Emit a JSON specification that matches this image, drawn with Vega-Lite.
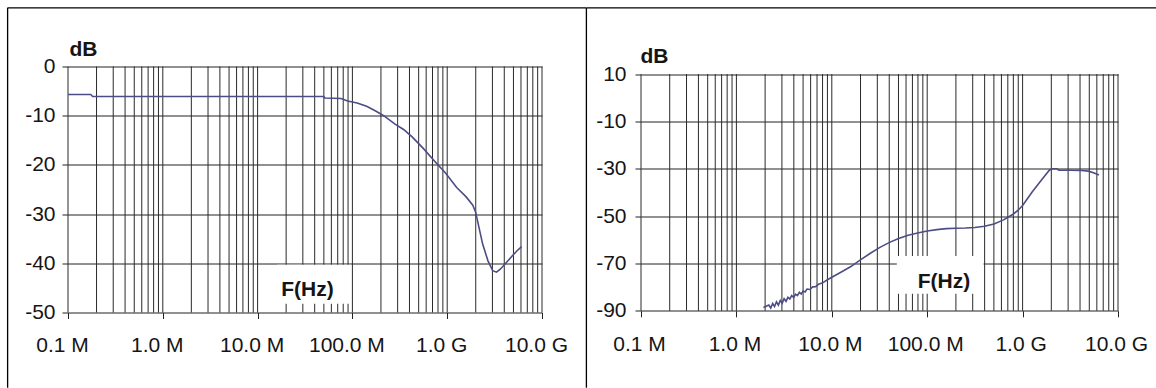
{
  "$schema": "https://vega.github.io/schema/vega-lite/v6.json",
  "background": "white",
  "padding": {"left": 6, "top": 6.5, "right": 0, "bottom": 0},
  "bounds": "flush",
  "spacing": 99,
  "config": {
    "view": {"stroke": null},
    "font": "Liberation Sans",
    "axis": {
      "labelFont": "Liberation Sans",
      "labelFontSize": 21,
      "labelColor": "#151515",
      "tickColor": "#222222",
      "tickSize": 6,
      "domain": false,
      "labelFlush": false,
      "labelOverlap": false,
      "titleFont": "Liberation Sans",
      "titleFontSize": 21,
      "titleFontWeight": "bold",
      "titleColor": "#151515"
    }
  },
  "datasets": {
    "vgrid": [
      {"freq_hz": 100000}, {"freq_hz": 200000}, {"freq_hz": 300000}, {"freq_hz": 400000}, {"freq_hz": 500000}, {"freq_hz": 600000}, {"freq_hz": 700000}, {"freq_hz": 800000}, {"freq_hz": 900000},
      {"freq_hz": 1000000}, {"freq_hz": 2000000}, {"freq_hz": 3000000}, {"freq_hz": 4000000}, {"freq_hz": 5000000}, {"freq_hz": 6000000}, {"freq_hz": 7000000}, {"freq_hz": 8000000}, {"freq_hz": 9000000},
      {"freq_hz": 10000000}, {"freq_hz": 20000000}, {"freq_hz": 30000000}, {"freq_hz": 40000000}, {"freq_hz": 50000000}, {"freq_hz": 60000000}, {"freq_hz": 70000000}, {"freq_hz": 80000000}, {"freq_hz": 90000000},
      {"freq_hz": 100000000}, {"freq_hz": 200000000}, {"freq_hz": 300000000}, {"freq_hz": 400000000}, {"freq_hz": 500000000}, {"freq_hz": 600000000}, {"freq_hz": 700000000}, {"freq_hz": 800000000}, {"freq_hz": 900000000},
      {"freq_hz": 1000000000}, {"freq_hz": 2000000000}, {"freq_hz": 3000000000}, {"freq_hz": 4000000000}, {"freq_hz": 5000000000}, {"freq_hz": 6000000000}, {"freq_hz": 7000000000}, {"freq_hz": 8000000000}, {"freq_hz": 9000000000},
      {"freq_hz": 10000000000}
    ],
    "attenuation": [
      {"freq_hz": 100000, "db": -5.7},
      {"freq_hz": 174000, "db": -5.7},
      {"freq_hz": 182000, "db": -6.1},
      {"freq_hz": 50000000, "db": -6.1},
      {"freq_hz": 51300000, "db": -6.4},
      {"freq_hz": 75900000, "db": -6.5},
      {"freq_hz": 89100000, "db": -7.0},
      {"freq_hz": 112200000, "db": -7.4},
      {"freq_hz": 141300000, "db": -8.1},
      {"freq_hz": 177800000, "db": -9.1},
      {"freq_hz": 213800000, "db": -10.0},
      {"freq_hz": 281800000, "db": -11.7},
      {"freq_hz": 346700000, "db": -12.8},
      {"freq_hz": 426600000, "db": -14.3},
      {"freq_hz": 562300000, "db": -16.7},
      {"freq_hz": 741300000, "db": -19.3},
      {"freq_hz": 955000000, "db": -21.6},
      {"freq_hz": 1259000000, "db": -24.6},
      {"freq_hz": 1585000000, "db": -26.5},
      {"freq_hz": 1862000000, "db": -28.2},
      {"freq_hz": 1995000000, "db": -29.6},
      {"freq_hz": 2163000000, "db": -32.7},
      {"freq_hz": 2366000000, "db": -36.1},
      {"freq_hz": 2692000000, "db": -39.5},
      {"freq_hz": 3020000000, "db": -41.5},
      {"freq_hz": 3311000000, "db": -41.8},
      {"freq_hz": 3631000000, "db": -41.2},
      {"freq_hz": 4055000000, "db": -40.2},
      {"freq_hz": 4842000000, "db": -38.5},
      {"freq_hz": 5495000000, "db": -37.4},
      {"freq_hz": 6095000000, "db": -36.6}
    ],
    "crosstalk": [
      {"freq_hz": 1919000, "db": -88.6},
      {"freq_hz": 2188000, "db": -87.6},
      {"freq_hz": 2291000, "db": -88.8},
      {"freq_hz": 2399000, "db": -86.9},
      {"freq_hz": 2512000, "db": -88.2},
      {"freq_hz": 2630000, "db": -86.2},
      {"freq_hz": 2754000, "db": -87.6},
      {"freq_hz": 2884000, "db": -85.6},
      {"freq_hz": 3020000, "db": -86.8},
      {"freq_hz": 3162000, "db": -84.9},
      {"freq_hz": 3311000, "db": -86.0},
      {"freq_hz": 3467000, "db": -84.3},
      {"freq_hz": 3631000, "db": -85.0},
      {"freq_hz": 3802000, "db": -83.6},
      {"freq_hz": 3981000, "db": -84.4},
      {"freq_hz": 4169000, "db": -83.0},
      {"freq_hz": 4365000, "db": -83.6},
      {"freq_hz": 4571000, "db": -82.2},
      {"freq_hz": 4786000, "db": -82.9},
      {"freq_hz": 5012000, "db": -81.6},
      {"freq_hz": 5248000, "db": -82.0},
      {"freq_hz": 5495000, "db": -80.8},
      {"freq_hz": 5888000, "db": -81.0},
      {"freq_hz": 6310000, "db": -79.9},
      {"freq_hz": 6761000, "db": -79.8},
      {"freq_hz": 7244000, "db": -78.8},
      {"freq_hz": 7943000, "db": -78.3},
      {"freq_hz": 8913000, "db": -77.0},
      {"freq_hz": 10000000, "db": -75.8},
      {"freq_hz": 12590000, "db": -73.6},
      {"freq_hz": 15850000, "db": -71.3},
      {"freq_hz": 19950000, "db": -68.5},
      {"freq_hz": 25120000, "db": -65.8},
      {"freq_hz": 31620000, "db": -63.3},
      {"freq_hz": 39810000, "db": -61.2},
      {"freq_hz": 50120000, "db": -59.5},
      {"freq_hz": 63100000, "db": -58.1},
      {"freq_hz": 79430000, "db": -57.1},
      {"freq_hz": 100000000, "db": -56.3},
      {"freq_hz": 125900000, "db": -55.7},
      {"freq_hz": 158500000, "db": -55.3},
      {"freq_hz": 199500000, "db": -55.1},
      {"freq_hz": 251200000, "db": -55.0},
      {"freq_hz": 316200000, "db": -54.8},
      {"freq_hz": 398100000, "db": -54.3},
      {"freq_hz": 501200000, "db": -53.3},
      {"freq_hz": 631000000, "db": -51.6},
      {"freq_hz": 794300000, "db": -49.2},
      {"freq_hz": 891300000, "db": -47.6},
      {"freq_hz": 1000000000, "db": -45.5},
      {"freq_hz": 1259000000, "db": -39.8},
      {"freq_hz": 1585000000, "db": -34.6},
      {"freq_hz": 1905000000, "db": -30.6},
      {"freq_hz": 2042000000, "db": -30.0},
      {"freq_hz": 2291000000, "db": -30.0},
      {"freq_hz": 2399000000, "db": -30.6},
      {"freq_hz": 3162000000, "db": -30.6},
      {"freq_hz": 4169000000, "db": -30.7},
      {"freq_hz": 4898000000, "db": -31.0},
      {"freq_hz": 5623000000, "db": -31.8},
      {"freq_hz": 6310000000, "db": -32.6}
    ]
  },
  "hconcat": [
    {
      "width": 474,
      "height": 246,
      "layer": [
        {
          "data": {"name": "vgrid"},
          "mark": {"type": "rule", "color": "#2a2a2a", "strokeWidth": 1},
          "encoding": {
            "x": {"field": "freq_hz", "type": "quantitative", "scale": {"type": "log", "domain": [100000, 10000000000], "nice": false}},
            "y": {"datum": 0, "type": "quantitative", "scale": {"domain": [-50, 0], "nice": false, "zero": false}},
            "y2": {"datum": -50}
          }
        },
        {
          "data": {"values": [{}]},
          "mark": {"type": "rect", "color": "white", "clip": false},
          "encoding": {
            "x": {"datum": 16000000, "type": "quantitative"},
            "x2": {"datum": 96600000},
            "y": {"datum": -40.3, "type": "quantitative"},
            "y2": {"datum": -48.2}
          }
        },
        {
          "data": {"values": [{"label": "F(Hz)"}]},
          "mark": {"type": "text", "font": "Liberation Sans", "fontSize": 21, "fontWeight": "bold", "align": "center", "baseline": "alphabetic", "color": "#151515"},
          "encoding": {
            "text": {"field": "label"},
            "x": {"datum": 33600000, "type": "quantitative"},
            "y": {"datum": -46.6, "type": "quantitative"}
          }
        },
        {
          "data": {"values": [{}]},
          "mark": {"type": "rule", "color": "#000000", "strokeWidth": 1.3, "clip": false},
          "encoding": {
            "x": {"datum": 23070, "type": "quantitative"},
            "y": {"datum": 11.93, "type": "quantitative"},
            "y2": {"datum": -65.3}
          }
        },
        {
          "data": {"values": [{}]},
          "mark": {"type": "rule", "color": "#000000", "strokeWidth": 1.3, "clip": false},
          "encoding": {
            "x": {"datum": 29400000000, "type": "quantitative"},
            "y": {"datum": 11.93, "type": "quantitative"},
            "y2": {"datum": -65.3}
          }
        },
        {
          "data": {"values": [{}]},
          "mark": {"type": "rule", "color": "#000000", "strokeWidth": 1.3, "clip": false},
          "encoding": {
            "x": {"datum": 23070, "type": "quantitative"},
            "x2": {"datum": 29400000000},
            "y": {"datum": 11.93, "type": "quantitative"}
          }
        },
        {
          "data": {"name": "attenuation"},
          "mark": {"type": "line", "color": "#4d4d85", "strokeWidth": 1.6},
          "encoding": {
            "x": {
              "field": "freq_hz", "type": "quantitative",
              "scale": {"type": "log", "domain": [100000, 10000000000], "nice": false},
              "axis": {
                "values": [100000, 1000000, 10000000, 100000000, 1000000000, 10000000000],
                "labelExpr": "datum.value >= 1000000000 ? format(datum.value / 1000000000, '.1f') + ' G' : format(datum.value / 1000000, '.1f') + ' M'",
                "grid": false, "title": null, "labelPadding": 16, "labelOffset": -6
              }
            },
            "y": {
              "field": "db", "type": "quantitative",
              "scale": {"domain": [-50, 0], "nice": false, "zero": false},
              "axis": {
                "values": [0, -10, -20, -30, -40, -50],
                "labelExpr": "'' + datum.value",
                "grid": true, "gridColor": "#222222", "gridWidth": 1,
                "labelPadding": 7,
                "title": "dB", "titleAngle": 0, "titleAlign": "left", "titleBaseline": "alphabetic",
                "titleX": 1, "titleY": -11
              }
            }
          }
        }
      ]
    },
    {
      "width": 477,
      "height": 244.3,
      "layer": [
        {
          "data": {"name": "vgrid"},
          "mark": {"type": "rule", "color": "#2a2a2a", "strokeWidth": 1},
          "encoding": {
            "x": {"field": "freq_hz", "type": "quantitative", "scale": {"type": "log", "domain": [100000, 10000000000], "nice": false}},
            "y": {"datum": 10, "type": "quantitative", "scale": {"domain": [-90, 13.21], "nice": false, "zero": false}},
            "y2": {"datum": -90}
          }
        },
        {
          "data": {"values": [{}]},
          "mark": {"type": "rect", "color": "white", "clip": false},
          "encoding": {
            "x": {"datum": 48000000, "type": "quantitative"},
            "x2": {"datum": 390000000},
            "y": {"datum": -66.8, "type": "quantitative"},
            "y2": {"datum": -82.8}
          }
        },
        {
          "data": {"values": [{"label": "F(Hz)"}]},
          "mark": {"type": "text", "font": "Liberation Sans", "fontSize": 21, "fontWeight": "bold", "align": "center", "baseline": "alphabetic", "color": "#151515"},
          "encoding": {
            "text": {"field": "label"},
            "x": {"datum": 150000000, "type": "quantitative"},
            "y": {"datum": -80.4, "type": "quantitative"}
          }
        },
        {
          "data": {"values": [{}]},
          "mark": {"type": "rule", "color": "#000000", "strokeWidth": 1.3, "clip": false},
          "encoding": {
            "x": {"datum": 27000, "type": "quantitative"},
            "x2": {"datum": 25000000000},
            "y": {"datum": 38.0, "type": "quantitative"}
          }
        },
        {
          "data": {"name": "crosstalk"},
          "mark": {"type": "line", "color": "#4d4d85", "strokeWidth": 1.6},
          "encoding": {
            "x": {
              "field": "freq_hz", "type": "quantitative",
              "scale": {"type": "log", "domain": [100000, 10000000000], "nice": false},
              "axis": {
                "values": [100000, 1000000, 10000000, 100000000, 1000000000, 10000000000],
                "labelExpr": "datum.value >= 1000000000 ? format(datum.value / 1000000000, '.1f') + ' G' : format(datum.value / 1000000, '.1f') + ' M'",
                "grid": false, "title": null, "labelPadding": 17, "labelOffset": -2
              }
            },
            "y": {
              "field": "db", "type": "quantitative",
              "scale": {"domain": [-90, 13.21], "nice": false, "zero": false},
              "axis": {
                "values": [10, -10, -30, -50, -70, -90],
                "labelExpr": "'' + datum.value",
                "grid": true, "gridColor": "#222222", "gridWidth": 1,
                "labelPadding": 9,
                "title": "dB", "titleAngle": 0, "titleAlign": "left", "titleBaseline": "alphabetic",
                "titleX": -1, "titleY": -4
              }
            }
          }
        }
      ]
    }
  ]
}
